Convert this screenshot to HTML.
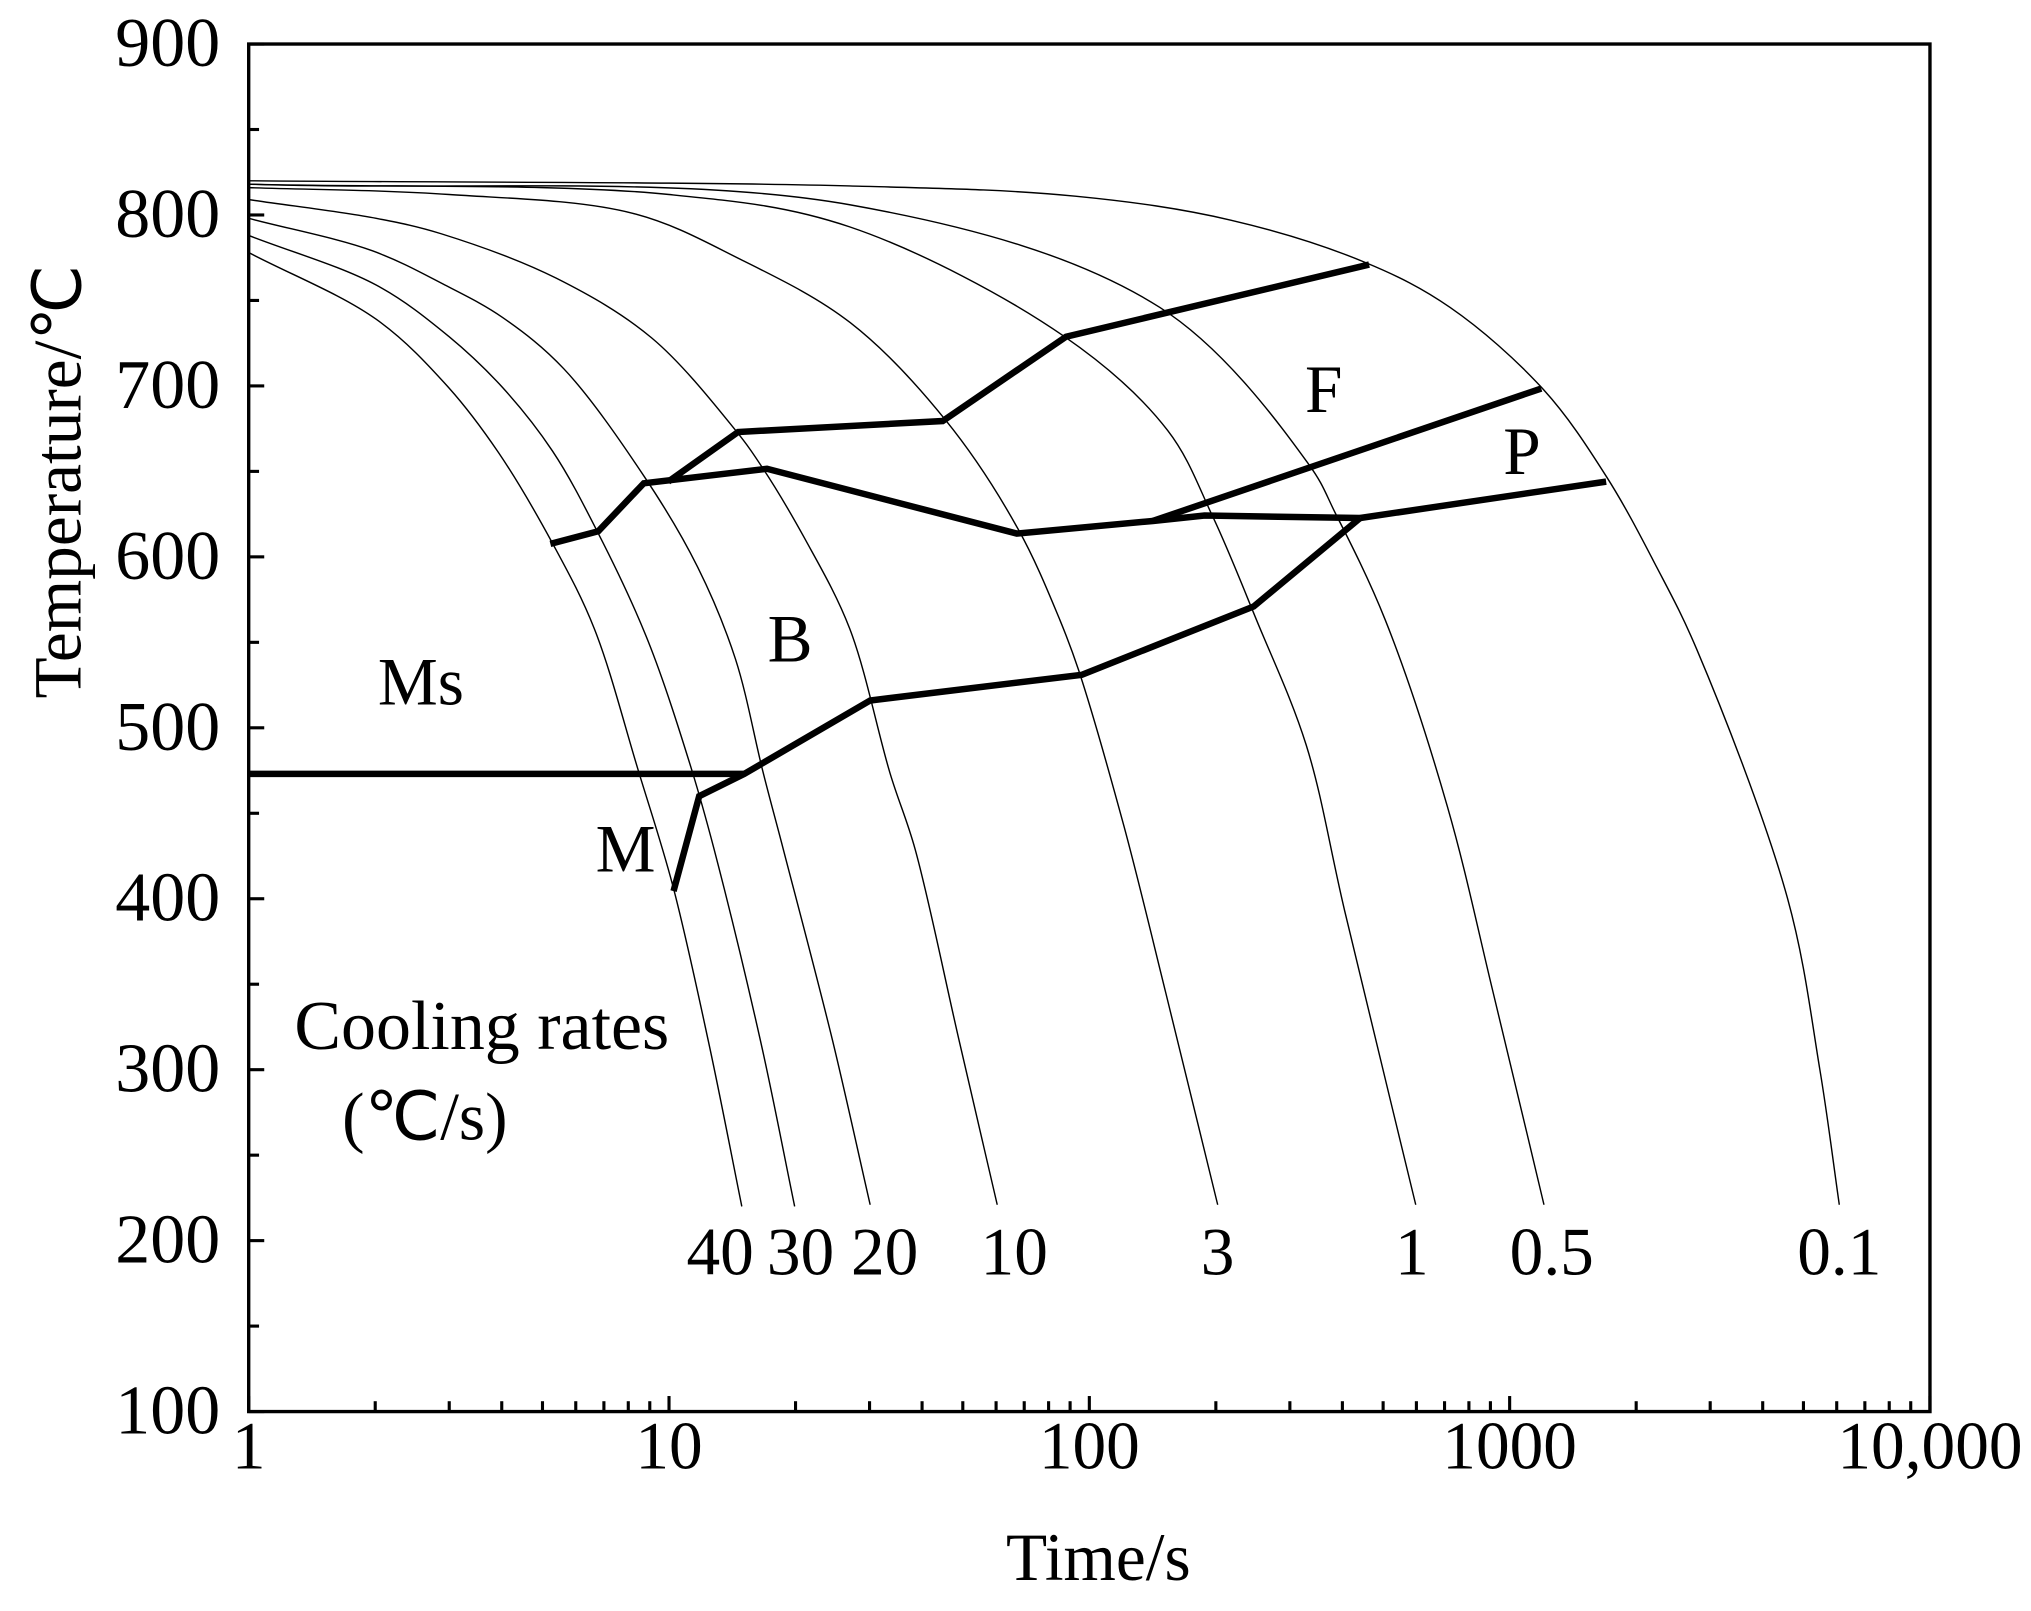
<!DOCTYPE html>
<html><head><meta charset="utf-8">
<style>
html,body{margin:0;padding:0;background:#fff;}
svg{display:block;}
text{font-family:"Liberation Serif",serif;fill:#000;}
</style></head>
<body>
<svg id="chart" width="2031" height="1611" viewBox="0 0 1568 1244" preserveAspectRatio="none" xmlns="http://www.w3.org/2000/svg">
<g id="plot"></g>
</svg>
<script>
// ---- data ----
const rateLabels = ["40","30","20","10","3","1","0.5","0.1"];
const curveTimes = [
 [1,2.01,2.99,3.93,5.28,6.64,8.45,10.2,12.4,14.9],
 [1,2.01,2.99,4.02,5.28,6.78,8.91,11.34,12.8,16.5,19.9],
 [1,1.97,2.93,4.02,5.62,8.73,11.7,14.4,16.7,18.7,24.5,30.1],
 [1,2.01,2.87,5.39,9.10,14.4,16.7,21.0,26.9,33.6,38.5,49.0,60.4],
 [1,3,8.19,14.8,27.0,45.5,67.8,85.1,94.2,121,152,202],
 [1,10,26.9,87.1,153.5,197,250,328,405,598],
 [1,26.9,147,333,386,506,711,914,1207],
 [1,26.9,92.6,217,456,721,1202,1699,2238,2786,4585,5472,6085]
];
const curveTemps = [
 [778,739,699,661,608,558,475,408,317,220],
 [788,759,729,699,662,614,551,475,429,317,220],
 [798,779,759,740,710,647,594,540,475,429,317,221],
 [809,798,789,763,728,674,652,611,558,473,429,317,221],
 [816,812,801,774,737,680,616,563,534,442,345,221],
 [818,812,793,729,674,623,563,490,393,221],
 [818,806,746,654,625,563,454,345,221],
 [820,817,811,797,772,746,698,647,594,546,400,300,221]
];
const boundaryNames = ["ferrite-start-line","bainite-start-line","pearlite-start-line","pearlite-end-line","bainite-end-line","ms-line"];
const boundaryTimes = [
 [9.96,14.6,44.8,88,463],
 [5.22,6.79,8.71,17.1,67.2,141.6,188,441],
 [141.6,1189],
 [441,1697],
 [10.25,11.8,15.1,30.1,95.9,246,441],
 [1,15.1]
];
const boundaryTemps = [
 [644,673,679.5,728.8,771],
 [607.6,615,643,651.5,613.6,621,624.2,622.7],
 [621,698.5],
 [622.7,644],
 [404.5,460,473,516,531,571,622.7],
 [473,473]
];
const yTicks = [100,200,300,400,500,600,700,800,900];
const xTicks = [1,10,100,1000,10000];
const xTickLabels = ["1","10","100","1000","10,000"];

// ---- axes ----
const L=192,R=1490,T=34,B=1090;
const xs = t => L + Math.log10(t)*(R-L)/4;
const ys = v => B - (v-100)*(B-T)/800;
const NS="http://www.w3.org/2000/svg";
const g=document.getElementById('plot');
function el(tag,attrs,txt){const e=document.createElementNS(NS,tag);for(const k in attrs)e.setAttribute(k,attrs[k]);if(txt!==undefined)e.textContent=txt;g.appendChild(e);return e;}

// centripetal Catmull-Rom
function smooth(pts){
  let d="M"+pts[0][0].toFixed(1)+","+pts[0][1].toFixed(1);
  const dist=(a,b)=>Math.max(1e-3,Math.pow(Math.hypot(a[0]-b[0],a[1]-b[1]),0.5));
  for(let i=0;i<pts.length-1;i++){
    const p1=pts[i],p2=pts[i+1];
    const p0=pts[i-1]||[2*p1[0]-p2[0],2*p1[1]-p2[1]];
    const p3=pts[i+2]||[2*p2[0]-p1[0],2*p2[1]-p1[1]];
    const d1=dist(p0,p1),d2=dist(p1,p2),d3=dist(p2,p3);
    const c1=[0,0],c2=[0,0];
    for(let k=0;k<2;k++){
      c1[k]=(d1*d1*p2[k]-d2*d2*p0[k]+(2*d1*d1+3*d1*d2+d2*d2)*p1[k])/(3*d1*(d1+d2));
      c2[k]=(d3*d3*p1[k]-d2*d2*p3[k]+(2*d3*d3+3*d3*d2+d2*d2)*p2[k])/(3*d3*(d3+d2));
    }
    d+=" C"+c1[0].toFixed(1)+","+c1[1].toFixed(1)+" "+c2[0].toFixed(1)+","+c2[1].toFixed(1)+" "+p2[0].toFixed(1)+","+p2[1].toFixed(1);
  }
  return d;
}

// cooling curves
curveTimes.forEach((ts,i)=>{
  const pts=ts.map((t,j)=>[xs(t),ys(curveTemps[i][j])]);
  const p=el('path',{d:smooth(pts),fill:'none',stroke:'#000','stroke-width':1.1});
  
  
});
// boundaries
boundaryTimes.forEach((ts,i)=>{
  const pts=ts.map((t,j)=>xs(t).toFixed(1)+","+ys(boundaryTemps[i][j]).toFixed(1)).join(" ");
  const p=el('polyline',{points:pts,fill:'none',stroke:'#000','stroke-width':5,'stroke-linejoin':'miter'});
  
  
});

// frame
const fr=el('rect',{x:L,y:T,width:R-L,height:B-T,fill:'none',stroke:'#000','stroke-width':2.6});



// y ticks
for(let v=100;v<=900;v+=50){
  const t=el('line',{x1:L,x2:L+(v%100===0?12:8),y1:ys(v),y2:ys(v),stroke:'#000','stroke-width':2.4});
  
  
}
yTicks.forEach(v=>{
  const t=el('text',{x:170,y:ys(v)+17,'text-anchor':'end','font-size':54},String(v));
  
  
});
// x ticks
for(let d=0;d<4;d++){for(let m=1;m<=10;m++){
  const tv=Math.pow(10,d)*m; if(m===1&&d>0)continue;
  const major=(m===1||m===10);
  const t=el('line',{x1:xs(tv),x2:xs(tv),y1:B,y2:B-(major?12:8),stroke:'#000','stroke-width':2.4});
  
  
}}
xTicks.forEach((v,i)=>{
  const t=el('text',{x:xs(v),y:1134,'text-anchor':'middle','font-size':52},xTickLabels[i]);
  
  
});
// titles
let tt=el('text',{x:848,y:1220,'text-anchor':'middle','font-size':52},"Time/s");


tt=el('text',{x:0,y:0,'text-anchor':'middle','font-size':52,transform:'translate(62,372) rotate(-90)'},"Temperature/℃");



// rate labels
const rateLabelX=[556,618,683,783,940,1090,1198,1420];
rateLabels.forEach((s,i)=>{
  const t=el('text',{x:rateLabelX[i],y:984,'text-anchor':'middle','font-size':52},s);
  
  
});
// region labels
[["F",1022,318,"ferrite-label",52],["P",1175,366,"pearlite-label",52],["B",610,511,"bainite-label",52],["Ms",325,544,"ms-label",52],["M",483,673,"martensite-label",52],["Cooling rates",372,810,"cooling-rates-label",54],["(℃/s)",328,880,"cooling-rates-unit",52]].forEach(a=>{
  const t=el('text',{x:a[1],y:a[2],'text-anchor':'middle','font-size':a[4]},a[0]);
  
  
});
</script>
</body></html>
